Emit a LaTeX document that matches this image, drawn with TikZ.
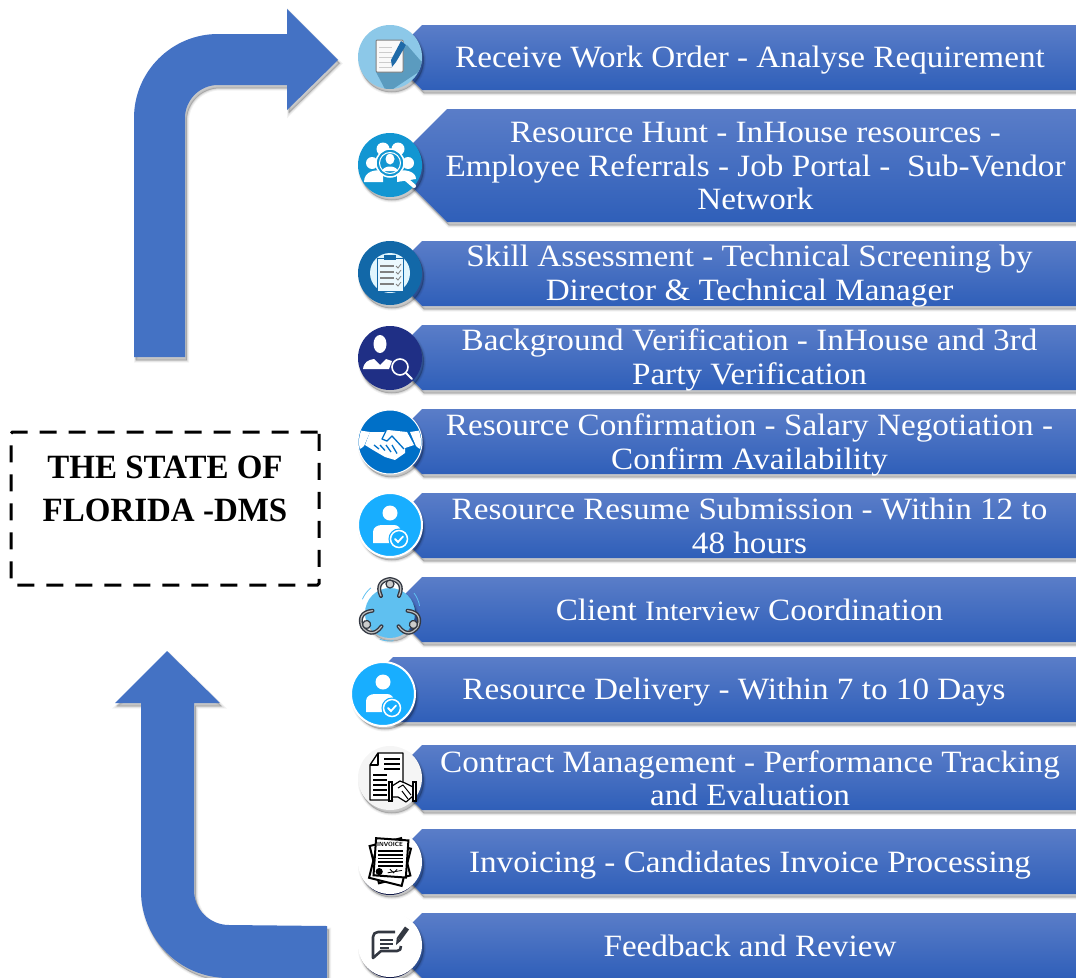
\documentclass[tikz,border=0pt]{standalone}
\usepackage{fontspec}
\setmainfont{Liberation Serif}[FakeStretch=1.07]
\newfontfamily\titlefont{Liberation Serif}[FakeStretch=0.97]
\usetikzlibrary{calc}
\definecolor{blow}{HTML}{4472C4}
\definecolor{bantop}{HTML}{5A7DC8}
\definecolor{banmid}{HTML}{4270CA}
\definecolor{banbot}{HTML}{2F5FB9}
\definecolor{skyb}{HTML}{18AEFF}
\definecolor{inkd}{HTML}{333842}
\definecolor{shakeb}{HTML}{0070C8}
\definecolor{notea}{HTML}{8CC8E8}
\definecolor{noteb}{HTML}{5B9BBF}
\definecolor{penb}{HTML}{1F6AA8}
\definecolor{huntb}{HTML}{1296D2}
\definecolor{clipb}{HTML}{1268A8}
\definecolor{seekb}{HTML}{1F2F85}
\definecolor{meetb}{HTML}{5FC0F0}
\tikzset{
soft/.style={
	preaction={draw=black,fill=black,opacity=.05,line width=4pt,transform canvas={xshift=2pt,yshift=-3.5pt}},
	preaction={draw=black,fill=black,opacity=.08,line width=2pt,transform canvas={xshift=2pt,yshift=-3.5pt}},
	preaction={draw=black,fill=black,opacity=.10,line width=.5pt,transform canvas={xshift=1.5pt,yshift=-3pt}}},
ban/.style={top color=bantop,middle color=banmid,bottom color=banbot,soft},
bantxt/.style={text=white,align=center,inner sep=0pt,font=\fontsize{31}{33.5}\selectfont},
disc/.style={circle,inner sep=0pt,minimum size=64pt,soft},
pics/icnote/.style={code={
	\begin{scope}
		\clip (0,0) circle (32);
		\fill[noteb] (17,-12) -- (36,10) -- (-3,36) -- (-14,15) -- cycle;
	\end{scope}
	\draw[gray,fill=white!95!gray,line width=1pt,rounded corners=1pt] (-14,-17) rectangle (13,15);
	\foreach \y in {-10,-5,0,5,10} \draw[black!20,line width=1pt] (-11,\y) -- (2,\y);
	\fill[penb] (11,-16) -- (16,-12) -- (6,5) -- (2,10) -- (1,3) -- cycle;
}},
pics/icpeople/.style={code={
	\fill[white] (-7,-16) circle (6.5) (8,-16) circle (6.5) (-18,-2) circle (6) (18,-2) circle (6);
	\fill[white] (-26,17) .. controls (-26,6) and (-14,4) .. (-7,6) -- (-7,17) -- cycle;
	\fill[white] (26,14) .. controls (26,6) and (14,4) .. (7,6) -- (7,17) -- cycle;
	\draw[white,line width=4pt,line cap=round] (10,9) -- (24,21);
	\draw[white,line width=1.5pt,fill=huntb] (0,-2) circle (14);
	\draw[white,line width=1pt] (0,-2) circle (10.5);
	\fill[white] (0,-6) ellipse (4.5 and 5.5);
	\fill[white] (-8,6) .. controls (-6,0) and (6,0) .. (8,6) -- cycle;
}},
pics/icclip/.style={code={
	\fill[cyan!12] (0,0) circle (20);
	\draw[clipb,fill=cyan!8,line width=1pt] (-13,-15) rectangle (13,18);
	\fill[clipb] (-6,-18) rectangle (6,-13);
	\foreach \y in {-7,-1,5,11} {
		\draw[gray,line width=1.2pt] (-10,\y) -- (4,\y);
		\draw[gray,line width=.8pt] (6,\y) -- (8,\y+2) -- (11,\y-2);
	}
}},
pics/icseek/.style={code={
	\fill[white] (-10,-14) ellipse (6.5 and 9);
	\fill[white] (-27,11) .. controls (-26,4) and (-22,2) .. (-16,1) -- (-10,7) -- (-4,1) -- (2,3) -- (-1,11) -- cycle;
	\draw[white,line width=1.6pt,fill=seekb] (10,9) circle (8);
	\draw[white,line width=2pt,line cap=round] (16,15) -- (22,21);
}},
pics/icshake/.style={code={
	\begin{scope}
		\clip (0,0) circle (31);
		\fill[white] (-33,-12) -- (-20,-10) -- (-26,4) .. controls (-28,6) .. (-33,8) -- cycle;
		\fill[white] (33,-12) -- (20,-10) -- (26,4) .. controls (28,6) .. (33,8) -- cycle;
	\end{scope}
	\fill[white] (-20,-10) -- (-6,-10) -- (-2,-12) -- (17,-10) -- (24,3) -- (15,6) -- (15,11) -- (5,18) -- (-5,15) -- (-17,8) -- (-25,3) -- cycle;
	\draw[shakeb,line width=1.3pt,line join=round] (-4,-11) -- (-8,-3) -- (-3,-1) -- (2,-6) -- (14,7);
	\foreach \x in {-16,-10,-4,2} \draw[shakeb,line width=1.3pt] (\x,3) -- (\x+5,11+\x/4);
}},
pics/iccheck/.style={code={
	\fill[white] (0,-12) circle (7.5);
	\fill[white] (-17,18) -- (-17,7) .. controls (-17,2) and (-12,0) .. (-8,0) -- (4,0) .. controls (8,0) and (11,3) .. (11,7) -- (11,18) -- cycle;
	\draw[white,line width=1.5pt,fill=skyb,preaction={draw=skyb,line width=4pt}] (9,14) circle (8.5);
	\draw[white,line width=1.8pt,line cap=round] (5,14) -- (8,17) -- (13,11.5);
}},
pics/icmeet/.style={code={
	\foreach \a in {0,120,240} {
		\begin{scope}[rotate=\a]
			\draw[inkd,line width=4pt,line cap=round] (-9,-15) .. controls (-14,-26) and (-8,-31) .. (0,-32) .. controls (8,-31) and (14,-26) .. (9,-15);
			\draw[black!25,line width=1.2pt,line cap=round] (-9,-15) .. controls (-14,-26) and (-8,-31) .. (0,-32) .. controls (8,-31) and (14,-26) .. (9,-15);
			\draw[inkd,fill=black!20,line width=1.2pt] (0,-27) circle (4);
			\draw[meetb,line width=.8pt] (24,-18) arc (-37:-10:30);
		\end{scope}
	}
}},
pics/iccontract/.style={code={
	\draw[black,line width=1.3pt,line join=round,fill=white] (3,22) -- (-20,22) -- (-20,-13) -- (-12,-25) -- (13,-25) -- (13,4);
	\draw[black,line width=1.3pt,line join=round] (-20,-13) -- (-12,-13) -- (-12,-25);
	\foreach \y in {-19,-14,-9} \draw[black,line width=1.2pt] (-6,\y) -- (10,\y);
	\foreach \y in {-3,2,7,12,17} \draw[black,line width=1.2pt] (-17,\y) -- (-3,\y);
	\draw[black,fill=white,line width=1.2pt,line join=round] (2,8) -- (10,3) -- (15,5) -- (23,9) -- (23,18) -- (16,24) -- (8,19) -- (2,19) -- cycle;
	\draw[black,line width=1pt] (8,10) -- (13,7) -- (21,17) (12,13) -- (18,21);
	\draw[black,fill=white,line width=1.2pt] (-1,4) rectangle (2,23) (23,4) rectangle (26,23);
}},
pics/icinvoice/.style={code={
	\begin{scope}[scale=1.2,shift={(0,1)}]
	\draw[black,fill=white,line width=2pt,rotate=14] (-13,-18) rectangle (14,14);
	\draw[black,fill=white,line width=2pt,rotate=-14] (-14,-16) rectangle (14,16);
	\draw[black,fill=white,line width=2pt,rotate=-4] (-13,-20) rectangle (14,11);
	\node[black,inner sep=0pt,font=\sffamily\bfseries\fontsize{6}{7}\selectfont] (invtxt) at (0,-15.5) {INVOICE};
	\foreach \y in {-10,-7,-4,-1,2} \draw[black,line width=1.8pt] (-10,\y) -- (11,\y);
	\fill[black] (-9,7) circle (3);
	\draw[black,line width=.8pt] (-2,8) -- (10,6) (0,5) -- (3,8) -- (6,5);
	\end{scope}
}},
pics/icspeech/.style={code={
	\draw[inkd,line width=2.6pt,line join=round] (11,1) .. controls (11,4) and (10,6) .. (7,6) -- (-9,6) -- (-17,13) -- (-17,-8) .. controls (-17,-11) and (-15,-13) .. (-12,-13) -- (5,-13);
	\foreach \y/\x in {-5/3,-1/3,3/-1} \draw[inkd,line width=1.4pt] (-10,\y) -- (\x,\y);
	\draw[inkd,line width=5pt] (17,-17) -- (9,-6);
	\fill[inkd] (6.8,-7.5) -- (11.2,-4.5) -- (6,0) -- cycle;
}}
}
\begin{document}
\begin{tikzpicture}[x=1pt,y=-1pt]
	\useasboundingbox (0,0) rectangle (1076,977);
	% big arrows
	\fill[blow,soft] (134,357) -- (134,118) arc (180:270:84) -- (287,34) -- (287,9) -- (338,60) -- (287,110) -- (287,85) -- (218,85) arc (270:180:33) -- (185,357) -- cycle;
	\fill[blow,soft] (167,651) -- (220,703) -- (194,703) -- (194,890) arc (180:90:35) -- (327,926) -- (327,978) -- (228,978) arc (90:180:87) -- (141,703) -- (115,703) -- cycle;
	% title
	\node[draw,line width=3pt,dash pattern=on 17pt off 12pt,rounded corners=1.5pt,minimum width=308pt,minimum height=153pt,inner sep=0pt] (title) at (165,508.5) {};
	\node[align=center,inner sep=0pt,font=\titlefont\bfseries\fontsize{34}{43}\selectfont] (titletxt) at (165,510.5) {THE STATE OF\\FLORIDA -DMS\\\mbox{}};
	% banners
	\foreach \n/\yc/\hf/\xl in {1/57.5/32.5/389.5,2/165.5/56.5/390.5,3/273.5/32.5/389.5,4/357.5/32.5/389.5,
		5/441.5/32.5/389.5,6/525.5/32.5/389.5,7/609.5/32.5/389.5,8/689.5/32.5/360.5,
		9/777.5/32.5/389.5,10/861.5/32.5/389.5,11/945.5/32.5/389.5}
		\shade[ban] (\xl,\yc) -- (\xl+\hf,\yc-\hf) -- (1077,\yc-\hf) -- (1077,\yc+\hf) -- (\xl+\hf,\yc+\hf) -- cycle;
	\foreach \n/\xc/\yc/\txt in {1/750/60/{Receive Work Order - Analyse Requirement},
		2/755.5/166/{Resource Hunt - InHouse resources -\\Employee Referrals - Job Portal - \ Sub-Vendor\\Network},
		3/749.5/276/{Skill Assessment - Technical Screening by\\Director \& Technical Manager},
		4/749.5/360/{Background Verification - InHouse and 3rd\\Party Verification},
		5/749.5/445/{Resource Confirmation - Salary Negotiation -\\Confirm Availability},
		6/749.5/526/{Resource Resume Submission - Within 12 to\\48 hours},
		7/749.5/610/{Client {\fontsize{28}{33}\selectfont Interview} Coordination},
		8/734/692/{Resource Delivery - Within 7 to 10 Days},
		9/750/778/{Contract Management - Performance Tracking\\and Evaluation},
		10/750/865/{Invoicing - Candidates Invoice Processing},
		11/750/946/{Feedback and Review}}
		\node[bantxt] (txt\n) at (\xc,\yc) {\txt};
	% round icons
	\node[disc,fill=notea] (ic1) at (390,57) {};
	\node[disc,fill=huntb] (ic2) at (390,165) {};
	\node[disc,fill=clipb] (ic3) at (390,273) {};
	\node[disc,fill=seekb] (ic4) at (390,358) {};
	\node[disc,fill=shakeb,draw=white,line width=1pt] (ic5) at (390,442) {};
	\node[disc,fill=skyb,draw=white,line width=2pt] (ic6) at (390,525) {};
	\node[disc,fill=meetb,minimum size=50pt] (ic7) at (390,613) {};
	\node[disc,fill=skyb,draw=white,line width=2pt] (ic8) at (383,694) {};
	\node[disc,fill=white!96!black] (ic9) at (390,778) {};
	\fill[seekb!70!black] (390,865) circle (30) (390,948) circle (30);
	\node[disc,fill=white] (ic10) at (390,862) {};
	\node[disc,fill=white] (ic11) at (390,945) {};
	\pic at (ic1) {icnote};
	\pic at (ic2) {icpeople};
	\pic at (ic3) {icclip};
	\pic at (ic4) {icseek};
	\pic at (ic5) {icshake};
	\pic at (ic6) {iccheck};
	\pic at ($(ic7)+(0,-2)$) {icmeet};
	\pic at (ic8) {iccheck};
	\pic at (ic9) {iccontract};
	\pic at (ic10) {icinvoice};
	\pic at (ic11) {icspeech};
\end{tikzpicture}
\end{document}
